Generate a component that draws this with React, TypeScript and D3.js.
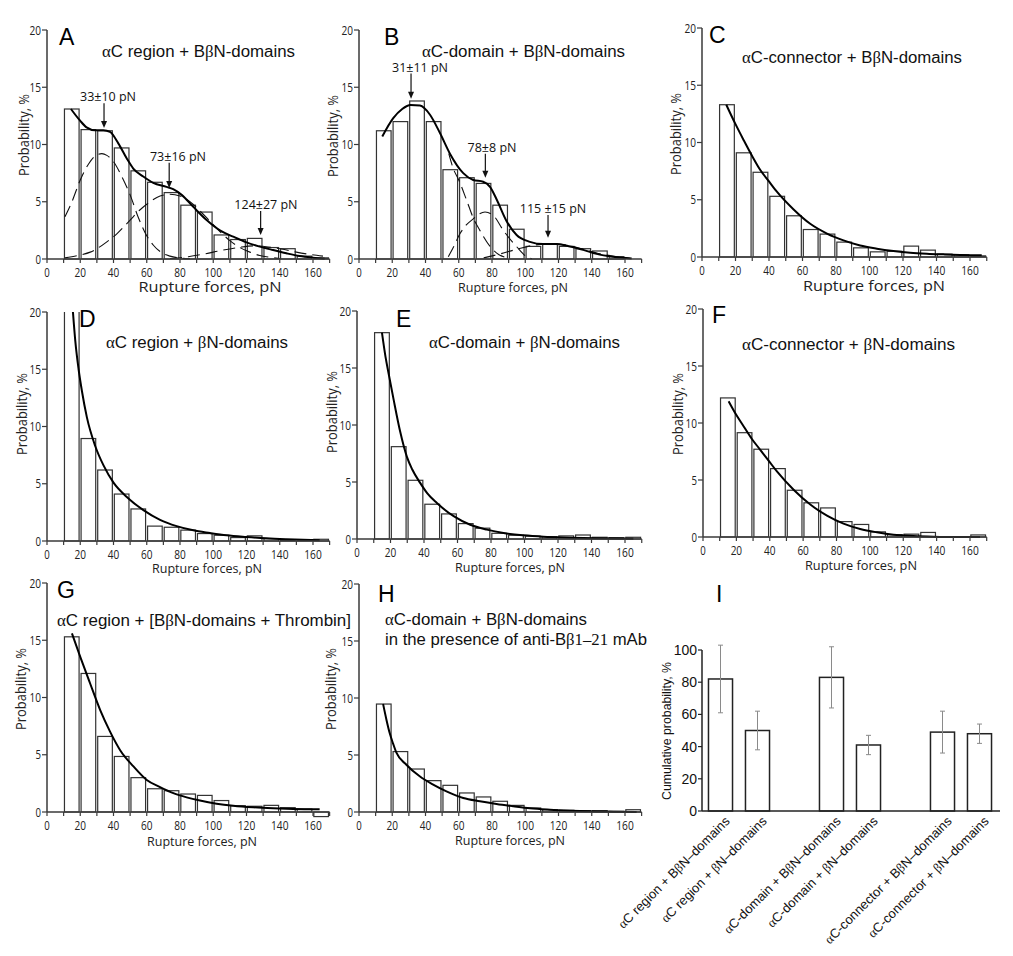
import React from "react";
import * as d3 from "d3";

type Pt = [number, number];

// ---------- shared axes data ----------
const BIN_STARTS = [10, 20, 30, 40, 50, 60, 70, 80, 90, 100, 110, 120, 130, 140, 150, 160];
const X_TICKS = [0, 10, 20, 30, 40, 50, 60, 70, 80, 90, 100, 110, 120, 130, 140, 150, 160, 170];
const X_TICK_LABELS = [0, 20, 40, 60, 80, 100, 120, 140, 160];
const Y_TICKS = [0, 5, 10, 15, 20];

// ---------- panel A ----------
const A_BARS = [13.1, 11.3, 11.2, 9.7, 7.7, 6.7, 5.8, 4.7, 4.1, 2.1, 1.7, 1.8, 1.0, 0.9, 0.25, 0.1];
const A_FIT: Pt[] = [[14.4, 13.1], [19.8, 12.1], [23.8, 11.5], [28.9, 11.25], [33.9, 11.25], [37.9, 11.1], [42.9, 10.1], [47.9, 8.8], [51.9, 7.9], [57.9, 7.2], [63.9, 6.65], [71.9, 6.3], [75.9, 6.1], [81, 5.6], [88, 4.55], [96, 3.4], [104, 2.5], [112, 1.95], [120, 1.45], [128, 1.08], [136, 0.78], [144, 0.5], [152, 0.26], [160, 0.12], [167, 0.03]];
const A_PEAK1: Pt[] = [[10.8, 3.7], [15, 5.0], [20, 6.9], [25, 8.3], [30, 9.1], [33, 9.2], [36, 9.05], [40, 8.5], [45, 7.2], [50, 5.6], [55, 3.6], [59, 2.3], [64, 1.2], [69, 0.55], [74, 0.25], [80, 0.08], [86, 0.02]];
const A_PEAK2: Pt[] = [[10.8, 0.1], [20, 0.35], [26, 0.6], [30, 0.9], [36, 1.5], [42, 2.2], [50, 3.4], [56, 4.3], [62, 5.0], [68, 5.5], [74, 5.65], [80, 5.5], [86, 5.0], [92, 4.2], [98, 3.3], [104, 2.4], [110, 1.6], [116, 1.0], [122, 0.6], [128, 0.3], [134, 0.15], [140, 0.05]];
const A_PEAK3: Pt[] = [[74, 0.05], [85, 0.2], [95, 0.45], [105, 0.75], [115, 1.0], [124, 1.15], [133, 1.05], [142, 0.85], [150, 0.6], [158, 0.4], [166, 0.25]];
const A_NOTES = [
  { text: "33±10 pN", x: 34.3, top: 13.6, tip: 11.45, lx: 36.7 },
  { text: "73±16 pN", x: 73.5, top: 8.4, tip: 6.2, lx: 78.8 },
  { text: "124±27 pN", x: 128.5, top: 4.2, tip: 2.1, lx: 131.7 },
];

// ---------- panel B ----------
const B_BARS = [11.2, 12.0, 13.8, 12.0, 7.8, 7.1, 6.6, 4.7, 2.6, 1.1, 1.3, 1.1, 0.9, 0.7, 0.2, 0];
const B_FIT: Pt[] = [[14, 10.7], [20.6, 12.3], [26, 13.1], [31, 13.45], [36.7, 13.4], [42.7, 12.6], [48.7, 11.0], [54.7, 9.2], [62.7, 7.5], [68.7, 6.9], [74.7, 6.75], [78.8, 6.3], [82.8, 5.2], [88.8, 3.3], [94.8, 2.1], [102.8, 1.5], [110.8, 1.3], [118.8, 1.3], [126.9, 1.1], [134.9, 0.8], [142.9, 0.45], [152.9, 0.2], [164, 0.05]];
const B_PEAK1: Pt[] = [[54, 9.2], [56.7, 7.9], [60, 6.9], [64.7, 5.15], [68.7, 3.6], [72.7, 2.5], [78.8, 1.1], [84, 0.4], [90, 0.1]];
const B_PEAK2: Pt[] = [[53.7, 0.2], [57, 1.1], [60.7, 2.2], [64.7, 3.0], [68.7, 3.5], [72, 3.9], [75.8, 4.1], [80.8, 3.8], [86.8, 2.5], [94.8, 1.08], [100.8, 0.2], [104, 0.03]];
const B_PEAK3: Pt[] = [[75, 0.1], [85, 0.45], [95, 0.85], [105, 1.2], [115, 1.35], [125, 1.2], [135, 0.85], [145, 0.45], [155, 0.2], [163, 0.05]];
const B_NOTES = [
  { text: "31±11 pN", x: 31.3, top: 16.2, tip: 14.0, lx: 36.7 },
  { text: "78±8 pN", x: 76, top: 9.2, tip: 7.1, lx: 80 },
  { text: "115 ±15 pN", x: 113.7, top: 3.85, tip: 1.85, lx: 116.7 },
];

// ---------- panel C ----------
const C_BARS = [13.3, 9.1, 7.4, 5.3, 3.6, 2.4, 2.0, 1.3, 0.8, 0.45, 0.5, 0.95, 0.6, 0.25, 0.2, 0.1];
const C_FIT: Pt[] = [[14.5, 13.3], [20, 11.6], [24.9, 10.2], [30, 8.8], [34.8, 7.6], [40, 6.6], [44.7, 5.7], [54.7, 4.15], [64.6, 2.9], [74.6, 2.05], [84.5, 1.45], [94.4, 1.0], [104.4, 0.73], [114.3, 0.53], [124.3, 0.38], [134.2, 0.29], [144.1, 0.23], [154.1, 0.18], [167, 0.15]];

// ---------- panel D ----------
const D_BARS = [26, 8.95, 6.2, 4.1, 2.8, 1.3, 1.2, 0.95, 0.65, 0.5, 0.3, 0.45, 0.2, 0.1, 0.1, 0.15];
const D_FIT: Pt[] = [[15.6, 20], [17, 17.5], [19, 15.0], [21, 13.1], [24, 10.8], [29, 8.3], [34, 6.6], [40, 5.1], [48, 3.85], [58, 2.7], [68, 1.85], [78, 1.3], [88, 0.93], [98, 0.7], [108, 0.5], [120, 0.35], [132, 0.23], [144, 0.15], [164, 0.06]];

// ---------- panel E ----------
const E_BARS = [18.1, 8.1, 5.15, 3.05, 2.2, 1.35, 0.95, 0.5, 0.33, 0.25, 0.2, 0.27, 0.35, 0.15, 0.12, 0.15];
const E_FIT: Pt[] = [[14.9, 18.1], [17, 16.0], [18.9, 14.5], [21.9, 12.2], [25.8, 9.4], [29.8, 7.2], [33, 6.1], [37.8, 4.9], [42, 4.0], [47.7, 3.15], [57.7, 2.0], [67.6, 1.25], [77.5, 0.82], [87.5, 0.52], [99.4, 0.32], [111.3, 0.2], [127.2, 0.12], [143.1, 0.06], [165, 0.03]];

// ---------- panel F ----------
const F_BARS = [12.2, 9.15, 7.7, 6.0, 4.1, 3.0, 2.55, 1.35, 1.1, 0.45, 0.2, 0.25, 0.4, 0, 0, 0.18];
const F_FIT: Pt[] = [[15.4, 11.9], [20, 10.7], [24.4, 9.7], [29.3, 8.6], [34.3, 7.65], [39.3, 6.7], [44.3, 5.75], [54.3, 4.15], [64.3, 2.85], [74.3, 1.87], [84.2, 1.17], [94.2, 0.7], [104.2, 0.41], [114.2, 0.2], [126.1, 0.09], [138.1, 0.03], [150.1, 0.0], [166, 0]];

// ---------- panel G ----------
const G_BARS = [15.3, 12.1, 6.6, 4.85, 3.0, 2.03, 1.86, 1.57, 1.45, 1.0, 0.55, 0.5, 0.58, 0.38, 0.26, -0.4];
const G_FIT: Pt[] = [[15, 15.6], [20, 13.55], [26, 11.2], [32, 8.9], [38, 7.0], [44, 5.4], [52, 3.98], [60, 2.8], [68, 2.18], [76, 1.65], [84, 1.28], [92, 1.0], [102, 0.73], [112, 0.55], [124, 0.41], [136, 0.32], [148, 0.26], [164, 0.23]];

// ---------- panel H ----------
const H_BARS = [9.47, 5.3, 3.77, 2.75, 2.34, 1.67, 1.32, 0.94, 0.58, 0.35, 0.2, 0.15, 0.12, 0.12, 0.06, 0.2];
const H_FIT: Pt[] = [[14.5, 9.47], [16.5, 8.1], [18.5, 6.9], [20.5, 6.0], [22.5, 5.2], [28.5, 4.15], [36.5, 3.13], [44.6, 2.4], [52.6, 1.81], [62.7, 1.23], [72.7, 0.94], [82.7, 0.7], [92.8, 0.5], [102.8, 0.32], [114.9, 0.2], [126.9, 0.12], [139, 0.06], [153, 0.03], [167, 0]];

// ---------- panel I ----------
const I_LABELS = [
  "αC region + BβN–domains",
  "αC region + βN–domains",
  "αC-domain + BβN–domains",
  "αC-domain + βN–domains",
  "αC-connector + BβN–domains",
  "αC-connector + βN–domains",
];
const I_VALUES = [82, 50, 83, 41, 49, 48];
const I_ERR_LOW = [61, 38, 64, 35, 36, 42];
const I_ERR_HIGH = [103, 62, 102, 47, 62, 54];
const I_SLOTS = [0, 1, 3, 4, 6, 7];
const I_SLOT_DOMAIN = [0, 1, 2, 3, 4, 5, 6, 7];
const I_TICKS = [0, 20, 40, 60, 80, 100];

// ---------- fonts ----------
const SANS = "'Liberation Sans', Arial, Helvetica, sans-serif";
const SERIF = "'Liberation Serif', 'Times New Roman', 'DejaVu Serif', serif";
const MYRIAD = "'Open Sans', 'Noto Sans', sans-serif";

function Rich({ text }: { text: string }) {
  const parts = text.split(/(α|β|1–21)/).filter((p) => p !== "");
  return (
    <>
      {parts.map((p, i) =>
        /^(α|β|1–21)$/.test(p) ? (
          <tspan key={i} fontFamily={SERIF}>{p}</tspan>
        ) : (
          <tspan key={i}>{p}</tspan>
        )
      )}
    </>
  );
}

type Note = { text: string; x: number; top: number; tip: number; lx: number };
type PanelSpec = {
  id: string;
  letter: string;
  titles: { text: string; x: number; y: number; w: number }[];
  bars: number[];
  fit: Pt[];
  dashed: Pt[][];
  notes: Note[];
  x0: number; x160: number; y0: number; y20: number;
  letterPos: [number, number];
  ylab: [number, number];
  xlab: { x: number; y: number; w: number; size: number };
};

const PANELS: PanelSpec[] = [
  { id: "A", letter: "A", titles: [{ text: "αC region + BβN-domains", x: 102, y: 57, w: 193 }], bars: A_BARS, fit: A_FIT, dashed: [A_PEAK1, A_PEAK2, A_PEAK3], notes: A_NOTES,
    x0: 47, x160: 313, y0: 259, y20: 30, letterPos: [59, 45], ylab: [29, 135], xlab: { x: 210, y: 292, w: 143, size: 14 } },
  { id: "B", letter: "B", titles: [{ text: "αC-domain + BβN-domains", x: 422, y: 57, w: 203 }], bars: B_BARS, fit: B_FIT, dashed: [B_PEAK1, B_PEAK2, B_PEAK3], notes: B_NOTES,
    x0: 359, x160: 625, y0: 259, y20: 30, letterPos: [384, 45], ylab: [338, 136], xlab: { x: 513, y: 291.5, w: 110, size: 13 } },
  { id: "C", letter: "C", titles: [{ text: "αC-connector + BβN-domains", x: 742, y: 63, w: 220 }], bars: C_BARS, fit: C_FIT, dashed: [], notes: [],
    x0: 702, x160: 970, y0: 257, y20: 28, letterPos: [709, 43], ylab: [681, 134], xlab: { x: 874, y: 291, w: 142, size: 14 } },
  { id: "D", letter: "D", titles: [{ text: "αC region + βN-domains", x: 106, y: 348, w: 182 }], bars: D_BARS, fit: D_FIT, dashed: [], notes: [],
    x0: 47, x160: 313, y0: 541, y20: 312, letterPos: [79, 327], ylab: [27, 414], xlab: { x: 207, y: 573, w: 110, size: 13 } },
  { id: "E", letter: "E", titles: [{ text: "αC-domain + βN-domains", x: 429, y: 348, w: 191 }], bars: E_BARS, fit: E_FIT, dashed: [], notes: [],
    x0: 357, x160: 625, y0: 539, y20: 311, letterPos: [396, 327], ylab: [337, 412], xlab: { x: 510, y: 572, w: 110, size: 13 } },
  { id: "F", letter: "F", titles: [{ text: "αC-connector + βN-domains", x: 742, y: 350, w: 213 }], bars: F_BARS, fit: F_FIT, dashed: [], notes: [],
    x0: 703, x160: 970, y0: 537, y20: 309, letterPos: [712, 323], ylab: [683, 414], xlab: { x: 861, y: 570, w: 112, size: 13 } },
  { id: "G", letter: "G", titles: [{ text: "αC region + [BβN-domains + Thrombin]", x: 57, y: 626, w: 294 }], bars: G_BARS, fit: G_FIT, dashed: [], notes: [],
    x0: 47, x160: 313, y0: 812, y20: 583, letterPos: [57, 598], ylab: [26, 689], xlab: { x: 202, y: 846, w: 110, size: 13 } },
  { id: "H", letter: "H", titles: [
      { text: "αC-domain + BβN-domains", x: 385, y: 625, w: 202 },
      { text: "in the presence of anti-Bβ1–21 mAb", x: 385, y: 645, w: 262 }],
    bars: H_BARS, fit: H_FIT, dashed: [], notes: [],
    x0: 359, x160: 625, y0: 812, y20: 584, letterPos: [378, 602], ylab: [336, 689], xlab: { x: 510, y: 845, w: 110, size: 13 } },
];

const AXIS = "#3a3a3a";

function Hist({ p }: { p: PanelSpec }) {
  const x = d3.scaleLinear().domain([0, 160]).range([p.x0, p.x160]);
  const y = d3.scaleLinear().domain([0, 20]).range([p.y0, p.y20]);
  const line = d3.line<Pt>().x((d) => x(d[0])).y((d) => y(d[1])).curve(d3.curveMonotoneX);
  const clipId = `clip-${p.id}`;
  return (
    <g>
      <defs>
        <clipPath id={clipId}>
          <rect x={x(0)} y={y(20)} width={x(178) - x(0)} height={y(-1) - y(20)} />
        </clipPath>
      </defs>
      <g clipPath={`url(#${clipId})`}>
        {p.bars.map((v, i) => {
          const b = BIN_STARTS[i];
          const top = y(Math.max(v, 0));
          const bot = y(Math.min(v, 0));
          return (
            <rect key={i} x={x(b + 0.5)} y={top} width={x(b + 9.3) - x(b + 0.5)} height={bot - top}
              fill="#fff" stroke="#333" strokeWidth={1.2} />
          );
        })}
        {p.dashed.map((c, i) => (
          <path key={i} d={line(c) || ""} fill="none" stroke="#111" strokeWidth={1.1} strokeDasharray="12 6" />
        ))}
        <path d={line(p.fit) || ""} fill="none" stroke="#000" strokeWidth={2} />
      </g>
      {/* axes */}
      <line x1={x(0)} x2={x(170)} y1={y(0)} y2={y(0)} stroke={AXIS} strokeWidth={1.5} />
      <line x1={x(0)} x2={x(0)} y1={y(0)} y2={y(20)} stroke={AXIS} strokeWidth={1.5} />
      {X_TICKS.map((t) => (
        <line key={t} x1={x(t)} x2={x(t)} y1={y(0)} y2={y(0) + 4} stroke={AXIS} strokeWidth={1.2} />
      ))}
      {X_TICK_LABELS.map((t) => (
        <text key={t} x={x(t)} y={y(0) + 17.5} textAnchor="middle" fontFamily={MYRIAD} fontSize={12.5} fill="#222"
          textLength={String(t).length * 6 - 0.5} lengthAdjust="spacingAndGlyphs">{t}</text>
      ))}
      {Y_TICKS.map((t) => (
        <g key={t}>
          <line x1={x(0) - 5} x2={x(0)} y1={y(t)} y2={y(t)} stroke={AXIS} strokeWidth={1.2} />
          <text x={x(0) - 6} y={y(t)} dy="0.36em" textAnchor="end" fontFamily={MYRIAD} fontSize={13} fill="#222"
            textLength={String(t).length * 6 - 0.5} lengthAdjust="spacingAndGlyphs">{t}</text>
        </g>
      ))}
      {/* labels */}
      <text x={p.ylab[0]} y={p.ylab[1]} transform={`rotate(-90 ${p.ylab[0]} ${p.ylab[1]})`} textAnchor="middle"
        fontFamily={MYRIAD} fontSize={14.5} fill="#222" textLength={82} lengthAdjust="spacingAndGlyphs">Probability, %</text>
      <text x={p.xlab.x} y={p.xlab.y} textAnchor="middle" fontFamily={MYRIAD} fontSize={p.xlab.size} fill="#222"
        textLength={p.xlab.w} lengthAdjust="spacingAndGlyphs">Rupture forces, pN</text>
      <text x={p.letterPos[0]} y={p.letterPos[1]} fontFamily={SANS} fontSize={23} fill="#000">{p.letter}</text>
      {p.titles.map((t, i) => (
        <text key={i} x={t.x} y={t.y} fontFamily={SANS} fontSize={16} fill="#111" textLength={t.w} lengthAdjust="spacingAndGlyphs">
          <Rich text={t.text} />
        </text>
      ))}
      {/* peak annotations */}
      {p.notes.map((n, i) => {
        const ax = x(n.x);
        const yTop = y(n.top);
        const yTip = y(n.tip);
        return (
          <g key={i}>
            <text x={x(n.lx)} y={yTop - 2} textAnchor="middle" fontFamily={MYRIAD} fontSize={12.5} fill="#111">{n.text}</text>
            <line x1={ax} x2={ax} y1={yTop} y2={yTip - 5} stroke="#111" strokeWidth={1.2} />
            <path d={`M${ax - 3},${yTip - 7}L${ax + 3},${yTip - 7}L${ax},${yTip}Z`} fill="#111" />
          </g>
        );
      })}
    </g>
  );
}

function PanelI() {
  const x = d3.scaleBand<number>().domain(I_SLOT_DOMAIN).range([702, 998]).paddingInner(0.35).paddingOuter(0.175);
  const y = d3.scaleLinear().domain([0, 100]).range([811, 650]);
  const bw = x.bandwidth();
  return (
    <g>
      {I_VALUES.map((v, i) => {
        const bx = x(I_SLOTS[i]) as number;
        const cx = bx + bw / 2;
        return (
          <g key={i}>
            <rect x={bx} y={y(v)} width={bw} height={y(0) - y(v)} fill="#fff" stroke="#222" strokeWidth={1.5} />
            <line x1={cx} x2={cx} y1={y(I_ERR_LOW[i])} y2={y(I_ERR_HIGH[i])} stroke="#8a8a8a" strokeWidth={1} />
            <line x1={cx - 2.5} x2={cx + 2.5} y1={y(I_ERR_LOW[i])} y2={y(I_ERR_LOW[i])} stroke="#8a8a8a" strokeWidth={1} />
            <line x1={cx - 2.5} x2={cx + 2.5} y1={y(I_ERR_HIGH[i])} y2={y(I_ERR_HIGH[i])} stroke="#8a8a8a" strokeWidth={1} />
            <text transform={`translate(${cx + 10},${y(0) + 11}) rotate(-45)`} textAnchor="end" fontFamily={SANS}
              fontSize={13} fill="#111"><Rich text={I_LABELS[i]} /></text>
          </g>
        );
      })}
      <line x1={702} x2={1000} y1={y(0)} y2={y(0)} stroke="#222" strokeWidth={1.5} />
      <line x1={702} x2={702} y1={y(0)} y2={y(100)} stroke="#222" strokeWidth={1.5} />
      {I_TICKS.map((t) => (
        <g key={t}>
          <line x1={698} x2={702} y1={y(t)} y2={y(t)} stroke="#222" strokeWidth={1.2} />
          <text x={697} y={y(t)} dy="0.36em" textAnchor="end" fontFamily={SANS} fontSize={14} fill="#111">{t}</text>
        </g>
      ))}
      <text x={671} y={731} transform="rotate(-90 671 731)" textAnchor="middle" fontFamily={SANS} fontSize={12} fill="#111"
        textLength={138} lengthAdjust="spacingAndGlyphs">Cumulative probability, %</text>
      <text x={716} y={602} fontFamily={SANS} fontSize={23} fill="#000">I</text>
    </g>
  );
}

export default function App() {
  return (
    <svg width={1013} height={956} viewBox="0 0 1013 956"
      style={{ position: "absolute", left: 0, top: 0, background: "#fff", display: "block" }}>
      <rect x={0} y={0} width={1013} height={956} fill="#fff" />
      {PANELS.map((p) => (
        <Hist key={p.id} p={p} />
      ))}
      <PanelI />
    </svg>
  );
}
